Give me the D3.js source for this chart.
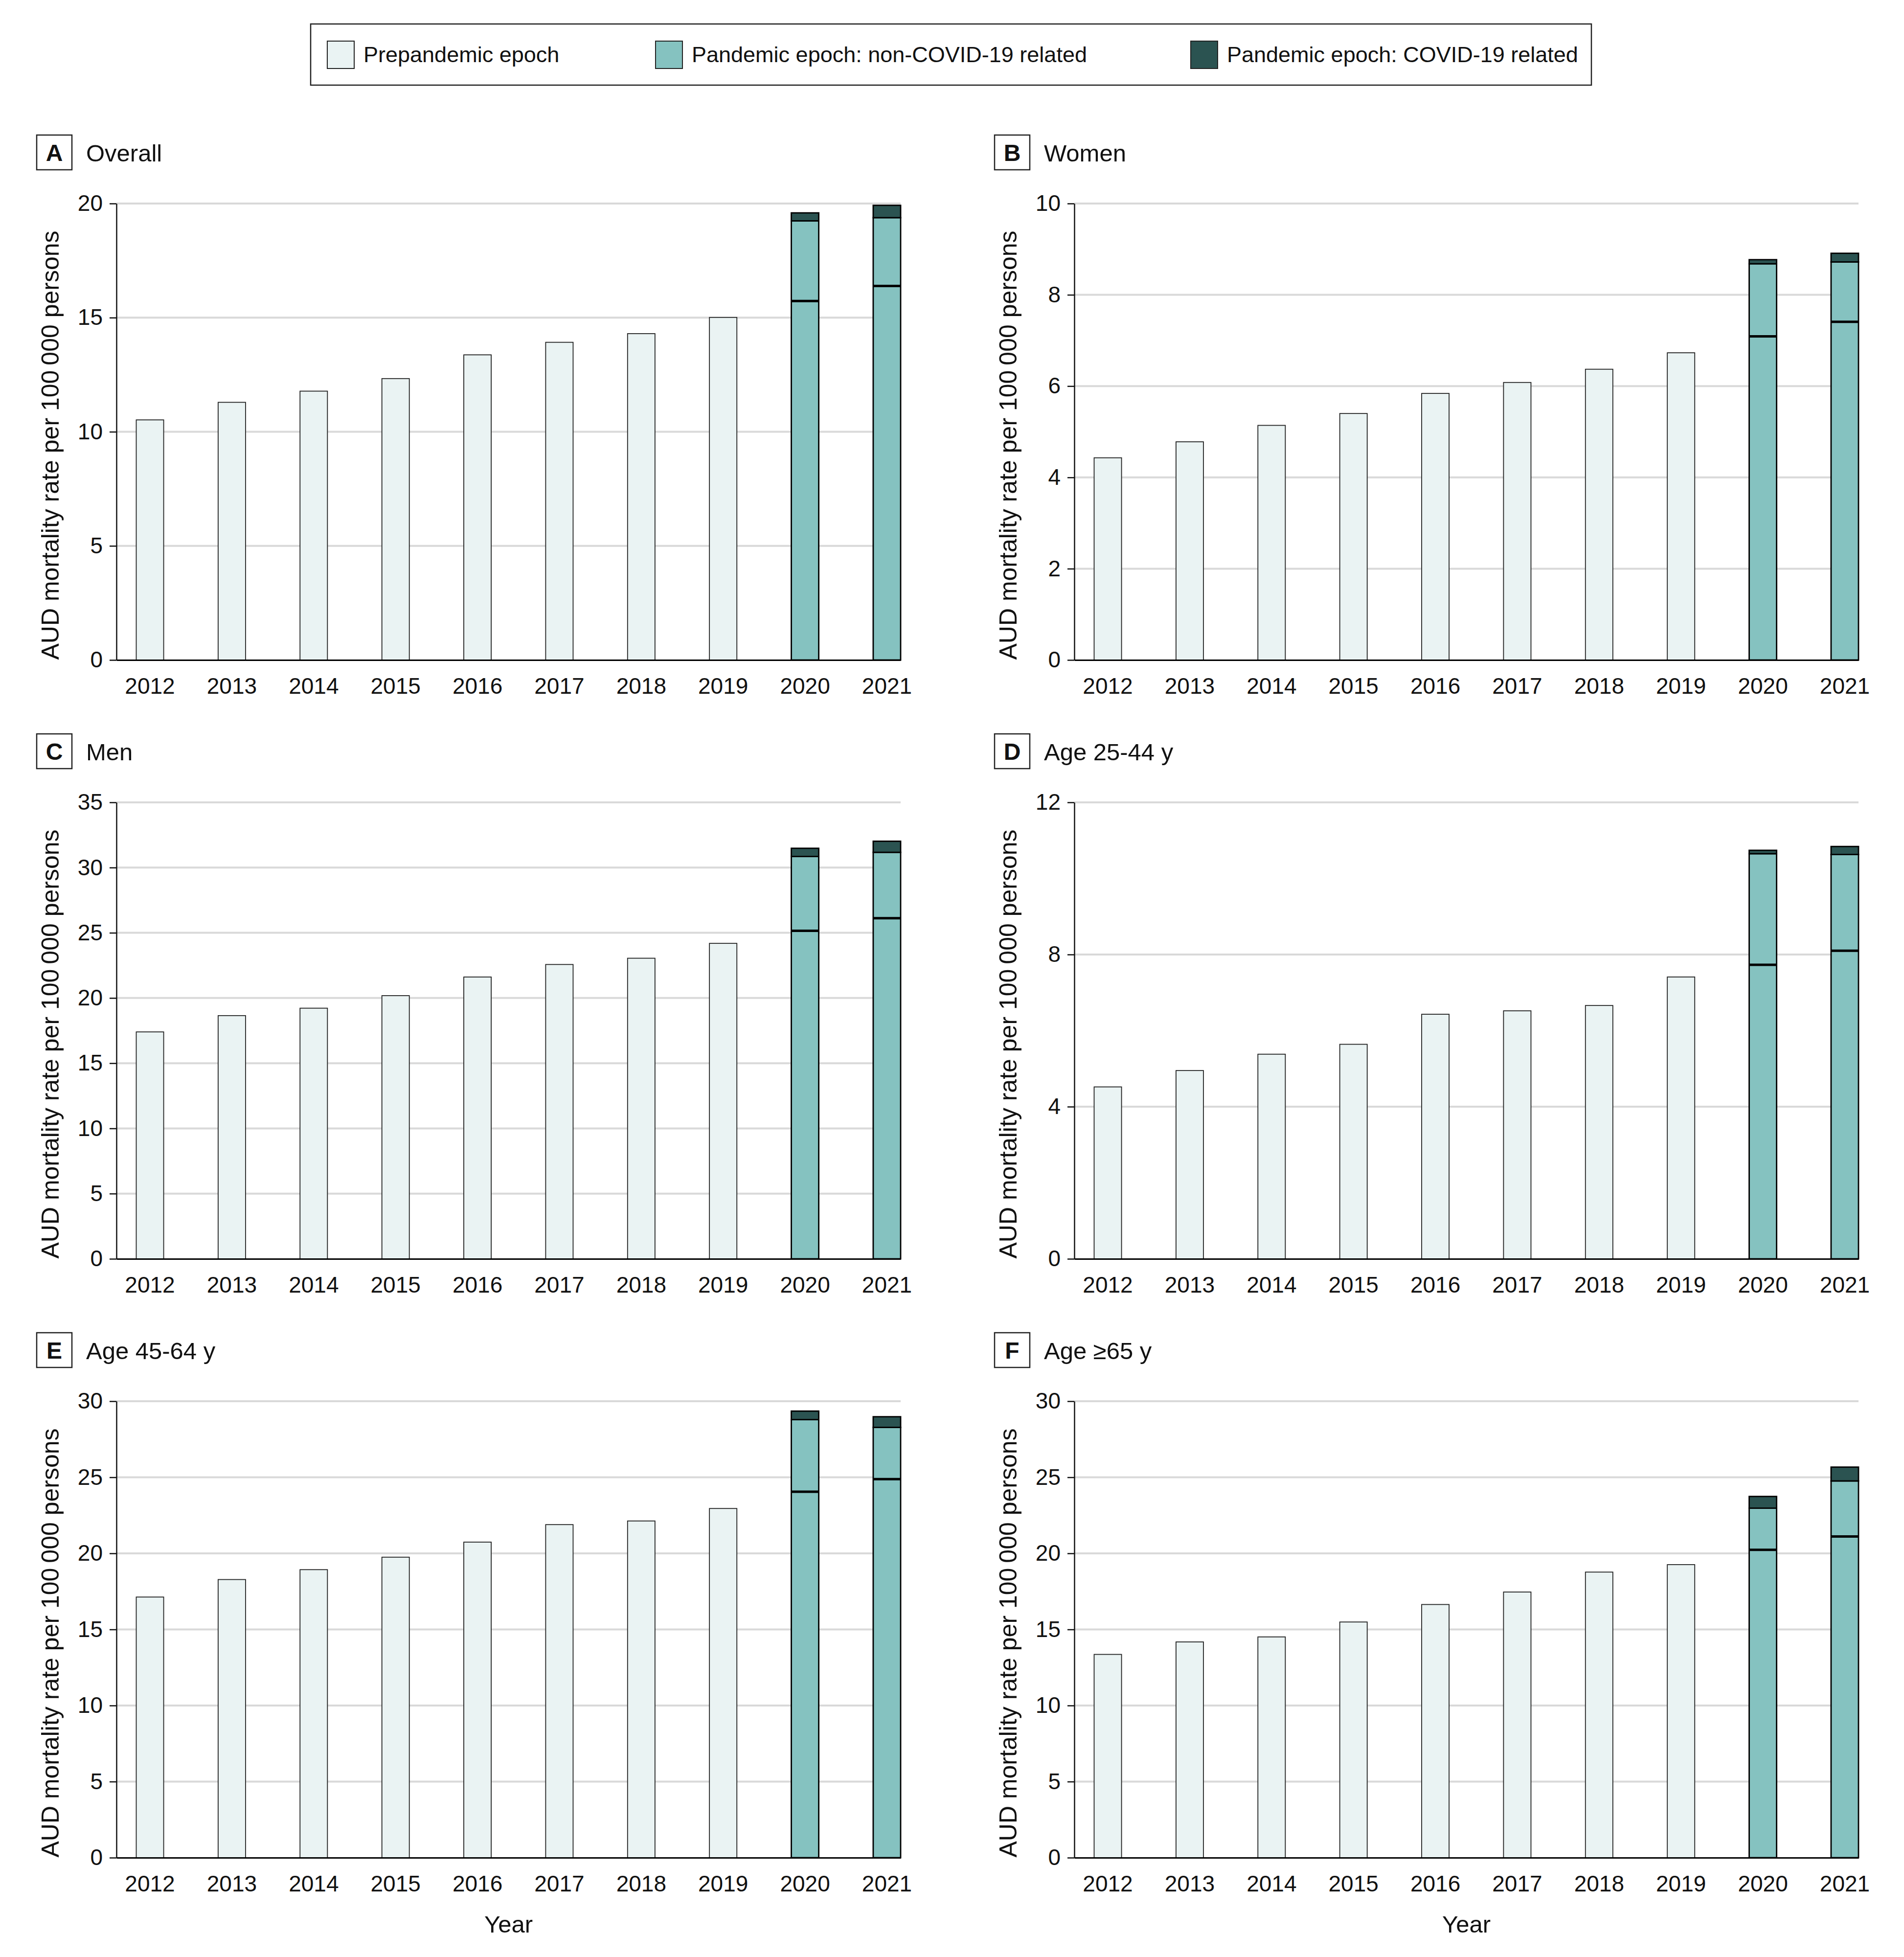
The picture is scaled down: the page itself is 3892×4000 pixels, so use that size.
<!DOCTYPE html>
<html>
<head>
<meta charset="utf-8">
<script src="https://cdn.jsdelivr.net/npm/d3@7"></script>
<style>
  html, body { margin: 0; padding: 0; background: #ffffff; }
  svg { display: block; font-family: "Liberation Sans", Arial, sans-serif; }
</style>
</head>
<body>
<div id="chart"></div>
<script>
// ---------------- DATA ----------------
const years = ["2012", "2013", "2014", "2015", "2016", "2017", "2018", "2019", "2020", "2021"];
const prepandemicYears = ["2012", "2013", "2014", "2015", "2016", "2017", "2018", "2019"];
const pandemicYears = ["2020", "2021"];

const panelLetters = ["A", "B", "C", "D", "E", "F"];
const panelTitles = ["Overall", "Women", "Men", "Age 25-44 y", "Age 45-64 y", "Age \u226565 y"];
const yMaxValues = [20, 10, 35, 12, 30, 30];
const yTickSteps = [5, 2, 5, 4, 5, 5];

// Prepandemic epoch rates (2012-2019), one row per panel
const prepandemicRates = [
  [10.52, 11.29, 11.78, 12.33, 13.37, 13.92, 14.30, 15.01],
  [4.43, 4.78, 5.14, 5.40, 5.84, 6.08, 6.37, 6.73],
  [17.40, 18.65, 19.22, 20.18, 21.61, 22.57, 23.05, 24.19],
  [4.52, 4.95, 5.38, 5.64, 6.43, 6.52, 6.66, 7.41],
  [17.13, 18.28, 18.93, 19.75, 20.74, 21.89, 22.13, 22.95],
  [13.36, 14.18, 14.51, 15.49, 16.64, 17.46, 18.77, 19.26]
];
// Pandemic epoch: non-COVID-19 related rates (2020, 2021)
const nonCovidRates = [
  [19.24, 19.38],
  [8.68, 8.72],
  [30.85, 31.17],
  [10.65, 10.63],
  [28.79, 28.28],
  [22.97, 24.76]
];
// Pandemic epoch: COVID-19 related rates (2020, 2021), stacked on top
const covidRates = [
  [0.35, 0.54],
  [0.09, 0.19],
  [0.63, 0.85],
  [0.09, 0.21],
  [0.56, 0.70],
  [0.77, 0.91]
];
// Expected (prepandemic-trend) rate, drawn as a line inside pandemic bars
const expectedRates = [
  [15.73, 16.39],
  [7.09, 7.41],
  [25.15, 26.12],
  [7.73, 8.10],
  [24.05, 24.88],
  [20.23, 21.11]
];

const legendLabels = ["Prepandemic epoch", "Pandemic epoch: non-COVID-19 related", "Pandemic epoch: COVID-19 related"];

// ---------------- STYLE ----------------
const W = 3892, H = 4000;
const colLight = "#EAF3F3", colTeal = "#85C2C0", colDark = "#2B5351";
const legendColors = [colLight, colTeal, colDark];

const svg = d3.select("#chart").append("svg")
  .attr("width", W).attr("height", H).attr("viewBox", `0 0 ${W} ${H}`);
svg.append("rect").attr("width", W).attr("height", H).attr("fill", "#fff");

// ---------------- LEGEND ----------------
const legend = svg.append("g");
legend.append("rect")
  .attr("x", 635).attr("y", 49).attr("width", 2618).attr("height", 125)
  .attr("fill", "#fff").attr("stroke", "#222").attr("stroke-width", 2.5);
const legendX = [669, 1340, 2434];
legendLabels.forEach((lab, i) => {
  legend.append("rect")
    .attr("x", legendX[i]).attr("y", 84).attr("width", 55).attr("height", 56)
    .attr("fill", legendColors[i]).attr("stroke", "#222").attr("stroke-width", 2);
  legend.append("text")
    .attr("x", legendX[i] + 74).attr("y", 127)
    .attr("font-size", 45).attr("fill", "#111")
    .text(lab);
});

// ---------------- PANELS ----------------
const colX0 = [238, 2196];
const plotW = 1603;
const rowTop = [416, 1640, 2864];
const plotH = 933;

panelLetters.forEach((letter, p) => {
  const col = p % 2, row = Math.floor(p / 2);
  const x0 = colX0[col], x1 = x0 + plotW;
  const top = rowTop[row], bottom = top + plotH;

  const g = svg.append("g");

  const x = d3.scaleBand().domain(years).range([x0, x1])
    .paddingInner(0.665).paddingOuter(0.121).align(1);
  const y = d3.scaleLinear().domain([0, yMaxValues[p]]).range([bottom, top]);
  const ticks = d3.range(0, yMaxValues[p] + 0.001, yTickSteps[p]);

  // gridlines
  g.append("g").selectAll("line").data(ticks.filter(t => t > 0)).join("line")
    .attr("x1", x0).attr("x2", x1)
    .attr("y1", d => y(d)).attr("y2", d => y(d))
    .attr("stroke", "#d9d9d9").attr("stroke-width", 4);

  // y axis
  const yAxis = d3.axisLeft(y).tickValues(ticks).tickSize(14).tickSizeOuter(0).tickPadding(14)
    .tickFormat(d3.format("d"));
  const ya = g.append("g").attr("transform", `translate(${x0},0)`).call(yAxis);
  ya.select(".domain").attr("stroke", "#111").attr("stroke-width", 2.5);
  ya.selectAll(".tick line").attr("stroke", "#111").attr("stroke-width", 2.5);
  ya.selectAll(".tick text").attr("font-size", 46).attr("fill", "#111")
    .attr("font-family", "Liberation Sans, Arial, sans-serif");

  // prepandemic bars
  g.append("g").selectAll("rect").data(prepandemicRates[p]).join("rect")
    .attr("x", (d, i) => x(prepandemicYears[i]))
    .attr("width", x.bandwidth())
    .attr("y", d => y(d))
    .attr("height", d => y(0) - y(d))
    .attr("fill", colLight).attr("stroke", "#222").attr("stroke-width", 1.8);

  // pandemic non-COVID bars
  g.append("g").selectAll("rect").data(nonCovidRates[p]).join("rect")
    .attr("x", (d, i) => x(pandemicYears[i]))
    .attr("width", x.bandwidth())
    .attr("y", d => y(d))
    .attr("height", d => y(0) - y(d))
    .attr("fill", colTeal).attr("stroke", "#000").attr("stroke-width", 2.8);

  // pandemic COVID bars (stacked)
  g.append("g").selectAll("rect").data(covidRates[p]).join("rect")
    .attr("x", (d, i) => x(pandemicYears[i]))
    .attr("width", x.bandwidth())
    .attr("y", (d, i) => y(nonCovidRates[p][i] + d))
    .attr("height", (d, i) => y(nonCovidRates[p][i]) - y(nonCovidRates[p][i] + d))
    .attr("fill", colDark).attr("stroke", "#000").attr("stroke-width", 2.8);

  // expected-rate lines
  g.append("g").selectAll("line").data(expectedRates[p]).join("line")
    .attr("x1", (d, i) => x(pandemicYears[i]))
    .attr("x2", (d, i) => x(pandemicYears[i]) + x.bandwidth())
    .attr("y1", d => y(d)).attr("y2", d => y(d))
    .attr("stroke", "#000").attr("stroke-width", 5);

  // x axis
  const xAxis = d3.axisBottom(x).tickSize(0).tickSizeOuter(0).tickPadding(0);
  const xa = g.append("g").attr("transform", `translate(0,${bottom})`).call(xAxis);
  xa.select(".domain").attr("stroke", "#000").attr("stroke-width", 3);
  xa.selectAll(".tick text").attr("font-size", 46).attr("fill", "#111")
    .attr("dy", null).attr("y", 69)
    .attr("font-family", "Liberation Sans, Arial, sans-serif");

  // y axis title
  g.append("text")
    .attr("transform", `translate(${x0 - 118},${top + 494}) rotate(-90)`)
    .attr("text-anchor", "middle").attr("font-size", 50).attr("fill", "#111")
    .text("AUD mortality rate per 100\u2009000 persons");

  // panel header
  const bx = x0 - 163, by = top - 140;
  g.append("rect").attr("x", bx).attr("y", by).attr("width", 72).attr("height", 71)
    .attr("fill", "#fff").attr("stroke", "#222").attr("stroke-width", 2.5);
  g.append("text").attr("x", bx + 36).attr("y", by + 53)
    .attr("text-anchor", "middle").attr("font-size", 48).attr("font-weight", "bold")
    .attr("fill", "#111").text(letter);
  g.append("text").attr("x", bx + 101).attr("y", top - 86)
    .attr("font-size", 49).attr("fill", "#111").text(panelTitles[p]);

  // x axis title on bottom row
  if (row === 2) {
    g.append("text").attr("x", (x0 + x1) / 2).attr("y", 3950)
      .attr("text-anchor", "middle").attr("font-size", 49).attr("fill", "#111")
      .text("Year");
  }
});
</script>
</body>
</html>
